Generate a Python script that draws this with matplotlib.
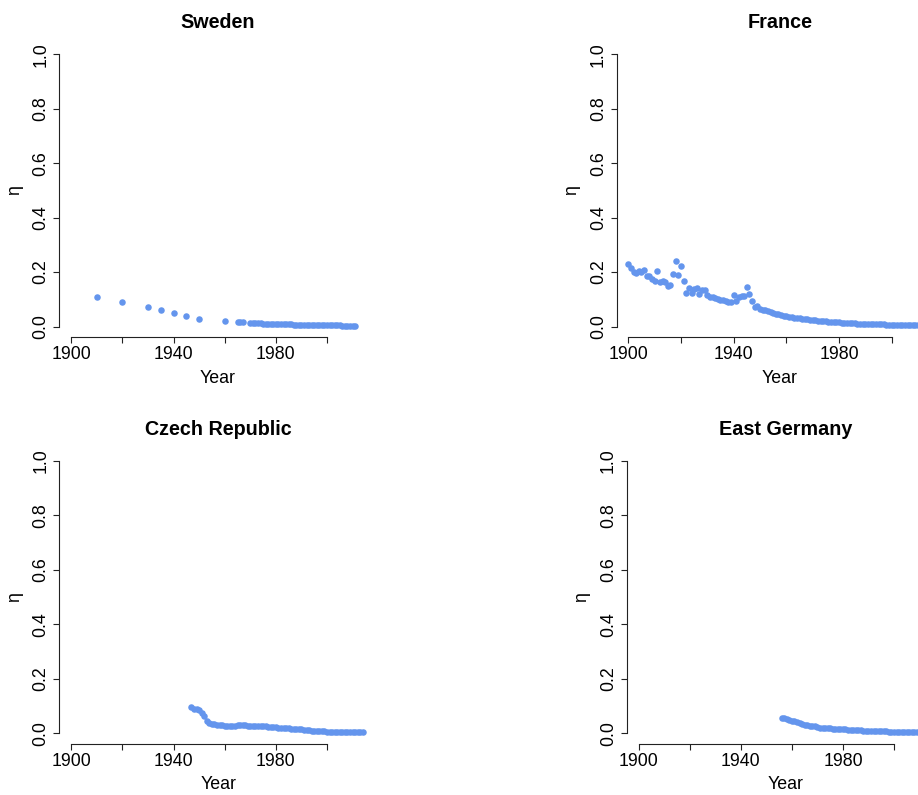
import numpy as np
import matplotlib
matplotlib.use("Agg")
import matplotlib.pyplot as plt

plt.rcParams['font.family'] = ['Liberation Sans', 'DejaVu Sans']

# --- data ---
sweden_years = [1910, 1920, 1930, 1935, 1940, 1945, 1950, 1960, 1965, 1966, 1967] + list(range(1970, 2012))
sweden_eta = [0.109, 0.089, 0.072, 0.060, 0.049, 0.038, 0.026, 0.020, 0.016, 0.016, 0.016,
              0.014, 0.013, 0.013, 0.012, 0.012, 0.011, 0.011, 0.010, 0.010, 0.010,
              0.009, 0.009, 0.009, 0.008, 0.008, 0.008, 0.008, 0.007, 0.007, 0.007,
              0.007, 0.006, 0.006, 0.006, 0.006, 0.006, 0.005, 0.005, 0.005, 0.005,
              0.005, 0.004, 0.004, 0.004, 0.004, 0.004, 0.003, 0.003, 0.003, 0.003,
              0.003, 0.003]

france_years = list(range(1900, 2011))
france_eta = [0.231, 0.215, 0.199, 0.196, 0.205, 0.199, 0.206, 0.186, 0.186, 0.175,
              0.169, 0.205, 0.163, 0.167, 0.162, 0.149, 0.154, 0.194, 0.240, 0.188,
              0.221, 0.169, 0.125, 0.140, 0.125, 0.138, 0.142, 0.121, 0.136, 0.136,
              0.116, 0.110, 0.109, 0.104, 0.100, 0.098, 0.096, 0.095, 0.091, 0.090,
              0.116, 0.095, 0.107, 0.112, 0.111, 0.147, 0.119, 0.093, 0.073, 0.075,
              0.066, 0.062, 0.059, 0.056, 0.053, 0.050, 0.047, 0.045, 0.042, 0.040,
              0.038, 0.036, 0.035, 0.033, 0.031, 0.030, 0.028, 0.027, 0.026, 0.025,
              0.024, 0.023, 0.022, 0.021, 0.020, 0.019, 0.018, 0.017, 0.016, 0.016,
              0.015, 0.014, 0.014, 0.013, 0.013, 0.012, 0.012, 0.011, 0.011, 0.010,
              0.010, 0.010, 0.009, 0.009, 0.009, 0.008, 0.008, 0.008, 0.007, 0.007,
              0.007, 0.006, 0.006, 0.006, 0.006, 0.005, 0.005, 0.005, 0.005, 0.004,
              0.004]

czech_years = list(range(1947, 2015))
czech_eta = [0.095, 0.091, 0.088, 0.084, 0.076, 0.062, 0.046, 0.039, 0.036, 0.034,
             0.032, 0.031, 0.029, 0.028, 0.028, 0.027, 0.027, 0.026, 0.031, 0.030,
             0.029, 0.029, 0.028, 0.028, 0.027, 0.027, 0.026, 0.026, 0.025, 0.025,
             0.024, 0.023, 0.022, 0.022, 0.021, 0.020, 0.019, 0.019, 0.018, 0.017,
             0.016, 0.016, 0.015, 0.014, 0.013, 0.012, 0.011, 0.010, 0.009, 0.008,
             0.008, 0.007, 0.007, 0.006, 0.006, 0.005, 0.005, 0.005, 0.004, 0.004,
             0.004, 0.004, 0.003, 0.003, 0.003, 0.003, 0.003, 0.003]

egermany_years = list(range(1956, 2013))
egermany_eta = [0.058, 0.056, 0.053, 0.050, 0.047, 0.044, 0.040, 0.037, 0.034, 0.031,
                0.029, 0.027, 0.026, 0.026, 0.022, 0.021, 0.020, 0.019, 0.018, 0.018,
                0.017, 0.016, 0.016, 0.015, 0.015, 0.014, 0.013, 0.013, 0.012, 0.012,
                0.011, 0.011, 0.010, 0.010, 0.009, 0.009, 0.008, 0.008, 0.008, 0.007,
                0.007, 0.007, 0.006, 0.006, 0.006, 0.005, 0.005, 0.005, 0.005, 0.004,
                0.004, 0.004, 0.004, 0.004, 0.003, 0.003, 0.003]

W, H = 918, 795
fig = plt.figure(figsize=(W / 100, H / 100), dpi=100)

def panel(title, years, eta, left, x1900, x2000, right, top, bottom):
    # pixel box of the plot region -> figure fraction
    ax = fig.add_axes([left / W, 1 - bottom / H, (right - left) / W, (bottom - top) / H])
    k = (x2000 - x1900) / 100.0
    ax.set_xlim(1900 - (x1900 - left) / k, 1900 + (right - x1900) / k)
    ax.set_ylim(-0.04, 1.04)
    ax.scatter(years, eta, s=22, color='#6495ED', linewidths=0, zorder=3, clip_on=False)

    for s in ['top', 'right']:
        ax.spines[s].set_visible(False)
    ax.spines['left'].set_bounds(0, 1)
    ax.spines['bottom'].set_bounds(1900, 2000)
    for s in ['left', 'bottom']:
        ax.spines[s].set_linewidth(0.8)
        ax.spines[s].set_color('#222222')

    ax.set_xticks([1900, 1920, 1940, 1960, 1980, 2000])
    ax.set_xticklabels(['1900', '', '1940', '', '1980', ''])
    ax.set_yticks([0, 0.2, 0.4, 0.6, 0.8, 1.0])
    ax.set_yticklabels(['0.0', '0.2', '0.4', '0.6', '0.8', '1.0'], rotation=90, va='center')
    ax.tick_params(direction='out', length=4, width=0.8, color='#222222', labelsize=12.8)
    ax.tick_params(axis='x', pad=2)
    ax.tick_params(axis='y', pad=3)

    ax.set_title(title, fontsize=14.2, fontweight='bold', pad=11)
    ax.set_xlabel('Year', fontsize=12.8, labelpad=5)
    ax.set_ylabel('η', fontsize=12.8, labelpad=7)
    return ax

panel('Sweden', sweden_years, sweden_eta, 59.3, 71.3, 327.0, 376.7, 43.6, 337.4)
panel('France', france_years, france_eta, 616.7, 628.3, 891.7, 943.3, 43.6, 337.4)
panel('Czech Republic', czech_years, czech_eta, 59.3, 71.3, 327.0, 377.0, 450.1, 744.2)
panel('East Germany', egermany_years, egermany_eta, 626.7, 638.7, 894.0, 944.7, 450.1, 744.2)

fig.savefig('out.png', dpi=100)
